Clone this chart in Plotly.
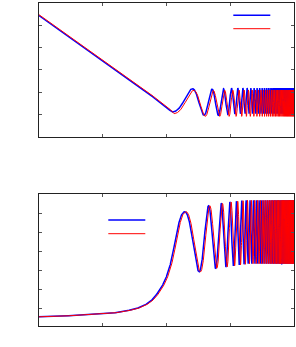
import numpy as np
import plotly.graph_objects as go

# ---------------- data (x in decades, log10 of X) ----------------
# Top panel: early (non-oscillating) knots, x-space
top_blue_early_x = [0.0, 1.0, 1.742, 1.898, 1.99, 2.05, 2.095, 2.41]
top_blue_early_v = [-0.5625, -2.60, -4.116, -4.45, -4.63, -4.80, -4.89, -3.85]
# Top panel: oscillation extrema values, starting at the first minimum (X = 124.5)
top_blue_ext_v = [-4.89, -3.85, -5.04, -3.87, -5.04, -3.85, -5.00, -3.83, -4.98, -3.82]
top_blue_dense = [-4.97, -3.82]          # trough / peak level in the dense band
top_red_early_v = [-0.5625, -2.60, -4.116, -4.45, -4.63, -4.80, -4.97, -3.92]
top_red_ext_v = [-4.97, -3.92, -5.09, -3.93, -5.09, -3.92, -5.09, -3.92, -5.09, -3.91]
top_red_dense = [-5.09, -3.91]
top_first_ext_X = 124.5

# Bottom panel: early (rising) knots, x-space
bot_blue_early_x = [0.0, 0.96, 1.43, 1.586, 1.742, 1.898, 2.003, 2.081, 2.133, 2.184, 2.238, 2.289, 2.5145]
bot_blue_early_v = [-0.46, -0.33, -0.11, 0.04, 0.33, 0.95, 1.65, 2.53, 3.41, 4.28, 4.90, 5.07, 1.90]
# Bottom panel: oscillation extrema values, starting at the first peak (X = 194.5)
bot_blue_ext_v = [5.07, 1.90, 5.38, 2.09, 5.51, 2.16, 5.58, 2.22, 5.62, 2.27, 5.65, 2.30]
bot_blue_dense = [5.67, 2.33]           # peak / trough level in the dense band
bot_red_ext_v = [5.07, 1.90, 5.38, 2.09, 5.51, 2.16, 5.58, 2.22, 5.62, 2.27, 5.65, 2.30]
bot_red_dense = [5.67, 2.33]
bot_first_ext_X = 194.5

period_X = 265.0          # oscillation period
red_shift_dec = 0.02      # red curve lags the blue one by ~0.02 decade

x_ticks = [0, 1, 2, 3, 4]
y_top_ticks = [-5, -4, -3, -2, -1]
y_bot_ticks = [0, 1, 2, 3, 4, 5]


# ---------------- helpers ----------------
def pchip(xk, yk, xq):
    xk = np.asarray(xk, float); yk = np.asarray(yk, float)
    h = np.diff(xk); d = np.diff(yk) / h
    m = np.zeros_like(yk)
    for k in range(1, len(xk) - 1):
        if d[k - 1] * d[k] > 0:
            w1 = 2 * h[k] + h[k - 1]; w2 = h[k] + 2 * h[k - 1]
            m[k] = (w1 + w2) / (w1 / d[k - 1] + w2 / d[k])
    m[0] = d[0]; m[-1] = d[-1]
    i = np.clip(np.searchsorted(xk, xq) - 1, 0, len(xk) - 2)
    t = (xq - xk[i]) / h[i]
    h00 = 2 * t**3 - 3 * t**2 + 1; h10 = t**3 - 2 * t**2 + t
    h01 = -2 * t**3 + 3 * t**2; h11 = t**3 - t**2
    return h00 * yk[i] + h10 * h[i] * m[i] + h01 * yk[i + 1] + h11 * h[i] * m[i + 1]


def build(early_x, early_v, first_X, ext_v, dense, scale, xg):
    n_ext = int((1e4 * 1.2 - first_X) / (period_X / 2)) + 3
    ext_X = (first_X + np.arange(n_ext) * period_X / 2) * scale
    vals = list(ext_v)
    while len(vals) < n_ext:
        vals.append(dense[(len(vals) - len(ext_v)) % 2])
    vals = np.array(vals[:n_ext])
    X = 10 ** xg
    out = np.empty_like(xg)
    ex = np.array(early_x) + np.log10(scale)
    sw = np.log10(ext_X[0])
    m = xg <= sw
    out[m] = pchip(ex, early_v, xg[m])
    Xi = X[~m]
    i = np.clip(np.searchsorted(ext_X, Xi) - 1, 0, n_ext - 2)
    t = (Xi - ext_X[i]) / (ext_X[i + 1] - ext_X[i])
    out[~m] = vals[i] + (vals[i + 1] - vals[i]) * (1 - np.cos(np.pi * t)) / 2
    return out


xg = np.unique(np.concatenate([np.linspace(0, 4, 3000),
                               np.log10(np.arange(100, 10001, 4.0))]))
xg = xg[(xg >= 0) & (xg <= 4)]

red_scale = 10 ** red_shift_dec
top_blue = build(top_blue_early_x, top_blue_early_v, top_first_ext_X, top_blue_ext_v, top_blue_dense, 1.0, xg)
top_red = build(top_blue_early_x, top_red_early_v, top_first_ext_X, top_red_ext_v, top_red_dense, red_scale, xg)
bot_blue = build(bot_blue_early_x, bot_blue_early_v, bot_first_ext_X, bot_blue_ext_v, bot_blue_dense, 1.0, xg)
bot_red = build(bot_blue_early_x, bot_blue_early_v, bot_first_ext_X, bot_red_ext_v, bot_red_dense, red_scale, xg)

xr = np.round(xg, 5)
fig = go.Figure()
fig.add_trace(go.Scatter(x=xr, y=np.round(top_blue, 4), mode="lines", name="",
                         line=dict(color="#0000ff", width=1.5), xaxis="x", yaxis="y", legend="legend"))
fig.add_trace(go.Scatter(x=xr, y=np.round(top_red, 4), mode="lines", name="",
                         line=dict(color="#ff0000", width=1.0), xaxis="x", yaxis="y", legend="legend2"))
fig.add_trace(go.Scatter(x=xr, y=np.round(bot_blue, 4), mode="lines", name="",
                         line=dict(color="#0000ff", width=1.5), xaxis="x2", yaxis="y2", legend="legend3"))
fig.add_trace(go.Scatter(x=xr, y=np.round(bot_red, 4), mode="lines", name="",
                         line=dict(color="#ff0000", width=1.0), xaxis="x2", yaxis="y2", legend="legend4"))

W, H = 296, 347
xdom = [38.5 / W, 294 / W]
ax_common = dict(showgrid=False, zeroline=False, showline=True, linecolor="#222", linewidth=1,
                 mirror="ticks", ticks="inside", ticklen=3, tickcolor="#555", tickwidth=1,
                 showticklabels=False)


def leg(xpx, ypx):
    return dict(x=(xpx - 5) / W, y=1 - ypx / H, xanchor="left", yanchor="middle",
                bgcolor="rgba(0,0,0,0)", borderwidth=0, font=dict(size=8), itemwidth=37)


fig.update_layout(
    width=W, height=H, margin=dict(l=0, r=0, t=0, b=0),
    paper_bgcolor="white", plot_bgcolor="white", showlegend=True,
    xaxis=dict(domain=xdom, range=[0, 4], tickvals=x_ticks, anchor="y", **ax_common),
    yaxis=dict(domain=[1 - 136.7 / H, 1 - 2.7 / H], range=[-6, 0], tickvals=y_top_ticks, anchor="x", **ax_common),
    xaxis2=dict(domain=xdom, range=[0, 4], tickvals=x_ticks, anchor="y2", **ax_common),
    yaxis2=dict(domain=[1 - 325.7 / H, 1 - 194 / H], range=[-0.93, 6], tickvals=y_bot_ticks, anchor="x2", **ax_common),
    legend=leg(233.3, 15.3), legend2=leg(233.3, 28.7),
    legend3=leg(108.3, 220), legend4=leg(108.3, 233.7),
)

fig.write_html("out.html", config={"displayModeBar": False},
               post_script="document.body.style.margin='0';document.body.style.overflow='hidden';")
